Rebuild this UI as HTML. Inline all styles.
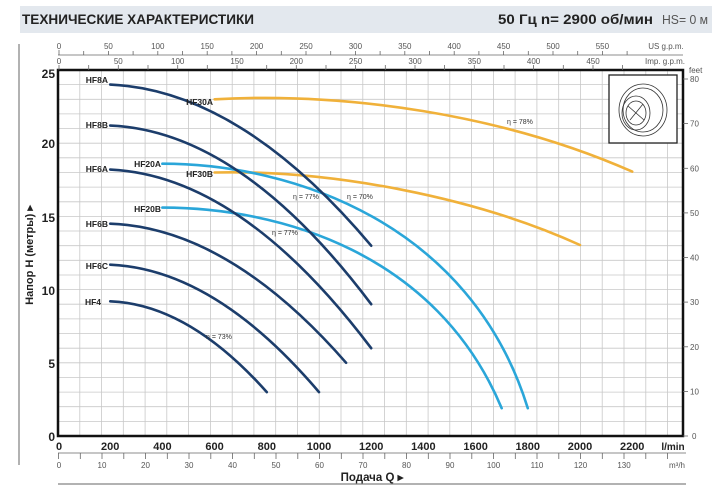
<!DOCTYPE html>
<html><head><meta charset="utf-8"><style>
html,body{margin:0;padding:0;background:#fff;}
svg{display:block;font-family:"Liberation Sans",sans-serif;}
</style></head><body>
<svg width="717" height="500" viewBox="0 0 717 500" xmlns="http://www.w3.org/2000/svg">
<rect x="20" y="6" width="692" height="27" fill="#e3e8ee"/>
<text x="22" y="24" font-size="13.5" font-weight="bold" fill="#222" textLength="232" lengthAdjust="spacingAndGlyphs">ТЕХНИЧЕСКИЕ ХАРАКТЕРИСТИКИ</text>
<text x="498" y="24" font-size="13.5" font-weight="bold" fill="#222" textLength="155" lengthAdjust="spacingAndGlyphs">50 Гц   n= 2900  об/мин</text>
<text x="662" y="24" font-size="12.5" fill="#555" textLength="46" lengthAdjust="spacingAndGlyphs">HS= 0 м</text>
<line x1="19" y1="44" x2="19" y2="465" stroke="#999" stroke-width="1.5"/>
<line x1="58" y1="484" x2="686" y2="484" stroke="#999" stroke-width="1.5"/>
<g id="grid" stroke="#c8c8c8" stroke-width="0.8">
<line x1="79.8" y1="70" x2="79.8" y2="436"/><line x1="101.5" y1="70" x2="101.5" y2="436"/><line x1="123.3" y1="70" x2="123.3" y2="436"/><line x1="145.1" y1="70" x2="145.1" y2="436"/><line x1="166.8" y1="70" x2="166.8" y2="436"/><line x1="188.6" y1="70" x2="188.6" y2="436"/><line x1="210.4" y1="70" x2="210.4" y2="436"/><line x1="232.2" y1="70" x2="232.2" y2="436"/><line x1="253.9" y1="70" x2="253.9" y2="436"/><line x1="275.7" y1="70" x2="275.7" y2="436"/><line x1="297.5" y1="70" x2="297.5" y2="436"/><line x1="319.2" y1="70" x2="319.2" y2="436"/><line x1="341" y1="70" x2="341" y2="436"/><line x1="362.8" y1="70" x2="362.8" y2="436"/><line x1="384.5" y1="70" x2="384.5" y2="436"/><line x1="406.3" y1="70" x2="406.3" y2="436"/><line x1="428.1" y1="70" x2="428.1" y2="436"/><line x1="449.8" y1="70" x2="449.8" y2="436"/><line x1="471.6" y1="70" x2="471.6" y2="436"/><line x1="493.4" y1="70" x2="493.4" y2="436"/><line x1="515.1" y1="70" x2="515.1" y2="436"/><line x1="536.9" y1="70" x2="536.9" y2="436"/><line x1="558.7" y1="70" x2="558.7" y2="436"/><line x1="580.5" y1="70" x2="580.5" y2="436"/><line x1="602.2" y1="70" x2="602.2" y2="436"/><line x1="624" y1="70" x2="624" y2="436"/><line x1="645.8" y1="70" x2="645.8" y2="436"/><line x1="667.5" y1="70" x2="667.5" y2="436"/>
<line x1="58" y1="421.4" x2="683" y2="421.4"/><line x1="58" y1="406.7" x2="683" y2="406.7"/><line x1="58" y1="392.1" x2="683" y2="392.1"/><line x1="58" y1="377.4" x2="683" y2="377.4"/><line x1="58" y1="362.8" x2="683" y2="362.8"/><line x1="58" y1="348.2" x2="683" y2="348.2"/><line x1="58" y1="333.5" x2="683" y2="333.5"/><line x1="58" y1="318.9" x2="683" y2="318.9"/><line x1="58" y1="304.2" x2="683" y2="304.2"/><line x1="58" y1="289.6" x2="683" y2="289.6"/><line x1="58" y1="275" x2="683" y2="275"/><line x1="58" y1="260.3" x2="683" y2="260.3"/><line x1="58" y1="245.7" x2="683" y2="245.7"/><line x1="58" y1="231" x2="683" y2="231"/><line x1="58" y1="216.4" x2="683" y2="216.4"/><line x1="58" y1="201.8" x2="683" y2="201.8"/><line x1="58" y1="187.1" x2="683" y2="187.1"/><line x1="58" y1="172.5" x2="683" y2="172.5"/><line x1="58" y1="157.8" x2="683" y2="157.8"/><line x1="58" y1="143.2" x2="683" y2="143.2"/><line x1="58" y1="128.6" x2="683" y2="128.6"/><line x1="58" y1="113.9" x2="683" y2="113.9"/><line x1="58" y1="99.3" x2="683" y2="99.3"/><line x1="58" y1="84.6" x2="683" y2="84.6"/>
</g>
<rect x="58" y="70" width="625" height="366" fill="none" stroke="#111" stroke-width="2.5"/>
<!-- image box -->
<rect x="609" y="75" width="68" height="68" fill="#fff" stroke="#222" stroke-width="1.3"/>
<g fill="none" stroke="#333" stroke-width="0.8">
<ellipse cx="643" cy="110" rx="24" ry="26"/><ellipse cx="643" cy="110" rx="20" ry="22"/>
<ellipse cx="636" cy="113" rx="14" ry="17"/><ellipse cx="636" cy="113" rx="10" ry="12"/>
<path d="M628 106 L644 120 M630 120 L643 104"/>
</g>
<!-- curves -->
<g fill="none" stroke-width="2.6" stroke-linecap="round">
<path d="M214.6 99.3 C345.1 92 501.7 114 632.2 171.6" stroke="#f0b13a"/>
<path d="M214.6 172.5 C332 169.6 475.6 197.4 580 245" stroke="#f0b13a"/>
<path d="M162.4 163.7 C292.9 163.7 470.4 223.7 527.8 408.2" stroke="#2aa6d9"/>
<path d="M162.4 207.6 C279.9 207.6 436.5 253 501.7 408.2" stroke="#2aa6d9"/>
<path d="M110.2 84.6 Q240.7 90.5 371.2 245.7" stroke="#1c3d6b"/>
<path d="M110.2 125.6 Q240.7 130.8 371.2 304.2" stroke="#1c3d6b"/>
<path d="M110.2 169.6 Q240.7 175.4 371.2 348.2" stroke="#1c3d6b"/>
<path d="M110.2 223.7 Q228.2 228.1 346.1 362.8" stroke="#1c3d6b"/>
<path d="M110.2 264.7 Q214.6 269.1 319 392.1" stroke="#1c3d6b"/>
<path d="M110.2 301.3 Q188.5 304.2 266.8 392.1" stroke="#1c3d6b"/>
</g>
<g font-size="8.5" font-weight="bold" fill="#222" text-anchor="end">
<text x="108" y="83">HF8A</text><text x="108" y="128">HF8B</text><text x="108" y="172">HF6A</text>
<text x="108" y="227">HF6B</text><text x="108" y="269">HF6C</text><text x="101" y="305">HF4</text>
<text x="213" y="105">HF30A</text><text x="213" y="177">HF30B</text>
<text x="161" y="167">HF20A</text><text x="161" y="212">HF20B</text>
</g>
<g font-size="7" fill="#333">
<text x="507" y="124">η = 78%</text><text x="293" y="199">η = 77%</text><text x="347" y="199">η = 70%</text>
<text x="272" y="235">η = 77%</text><text x="206" y="339">η = 73%</text>
</g>
<!-- left axis -->
<g font-size="12" font-weight="bold" fill="#222" text-anchor="end">
<text x="55" y="78">25</text><text x="55" y="148">20</text><text x="55" y="222">15</text><text x="55" y="295">10</text><text x="55" y="368">5</text><text x="55" y="441">0</text>
</g>
<text transform="translate(33,255) rotate(-90)" font-size="11" font-weight="bold" fill="#222" text-anchor="middle">Напор H (метры) ▸</text>
<!-- bottom l/min -->
<g font-size="11" font-weight="bold" fill="#222" text-anchor="middle">
<text x="59" y="450">0</text><text x="110.2" y="450">200</text><text x="162.4" y="450">400</text><text x="214.6" y="450">600</text><text x="266.8" y="450">800</text><text x="319" y="450">1000</text><text x="371.2" y="450">1200</text><text x="423.4" y="450">1400</text><text x="475.6" y="450">1600</text><text x="527.8" y="450">1800</text><text x="580" y="450">2000</text><text x="632.2" y="450">2200</text><text x="673" y="450" font-size="10">l/min</text>
</g>
<!-- m3/h axis -->
<line x1="58" y1="453" x2="686" y2="453" stroke="#666" stroke-width="0.8"/>
<g stroke="#666" stroke-width="0.8">
<line x1="58.5" y1="453" x2="58.5" y2="459"/><line x1="80.3" y1="453" x2="80.3" y2="459"/><line x1="102" y1="453" x2="102" y2="459"/><line x1="123.8" y1="453" x2="123.8" y2="459"/><line x1="145.5" y1="453" x2="145.5" y2="459"/><line x1="167.3" y1="453" x2="167.3" y2="459"/><line x1="189" y1="453" x2="189" y2="459"/><line x1="210.8" y1="453" x2="210.8" y2="459"/><line x1="232.5" y1="453" x2="232.5" y2="459"/><line x1="254.3" y1="453" x2="254.3" y2="459"/><line x1="276" y1="453" x2="276" y2="459"/><line x1="297.8" y1="453" x2="297.8" y2="459"/><line x1="319.5" y1="453" x2="319.5" y2="459"/><line x1="341.3" y1="453" x2="341.3" y2="459"/><line x1="363" y1="453" x2="363" y2="459"/><line x1="384.8" y1="453" x2="384.8" y2="459"/><line x1="406.5" y1="453" x2="406.5" y2="459"/><line x1="428.3" y1="453" x2="428.3" y2="459"/><line x1="450" y1="453" x2="450" y2="459"/><line x1="471.8" y1="453" x2="471.8" y2="459"/><line x1="493.5" y1="453" x2="493.5" y2="459"/><line x1="515.3" y1="453" x2="515.3" y2="459"/><line x1="537" y1="453" x2="537" y2="459"/><line x1="558.8" y1="453" x2="558.8" y2="459"/><line x1="580.5" y1="453" x2="580.5" y2="459"/><line x1="602.3" y1="453" x2="602.3" y2="459"/><line x1="624" y1="453" x2="624" y2="459"/><line x1="645.8" y1="453" x2="645.8" y2="459"/><line x1="667.5" y1="453" x2="667.5" y2="459"/>
</g>
<g font-size="8" fill="#555" text-anchor="middle">
<text x="59" y="468">0</text><text x="102" y="468">10</text><text x="145.5" y="468">20</text><text x="189" y="468">30</text><text x="232.5" y="468">40</text><text x="276" y="468">50</text><text x="319.5" y="468">60</text><text x="363" y="468">70</text><text x="406.5" y="468">80</text><text x="450" y="468">90</text><text x="493.5" y="468">100</text><text x="537" y="468">110</text><text x="580.5" y="468">120</text><text x="624" y="468">130</text><text x="677" y="468">m³/h</text>
</g>
<text x="372" y="481" font-size="11.5" font-weight="bold" fill="#222" text-anchor="middle">Подача Q ▸</text>
<!-- top US gpm -->
<line x1="58" y1="55" x2="683" y2="55" stroke="#666" stroke-width="0.8"/>
<g stroke="#666" stroke-width="0.8">
<line x1="59" y1="50" x2="59" y2="55"/><line x1="83.7" y1="51" x2="83.7" y2="55"/><line x1="108.4" y1="51" x2="108.4" y2="55"/><line x1="133.1" y1="51" x2="133.1" y2="55"/><line x1="157.8" y1="51" x2="157.8" y2="55"/><line x1="182.5" y1="51" x2="182.5" y2="55"/><line x1="207.2" y1="51" x2="207.2" y2="55"/><line x1="231.9" y1="51" x2="231.9" y2="55"/><line x1="256.6" y1="51" x2="256.6" y2="55"/><line x1="281.3" y1="51" x2="281.3" y2="55"/><line x1="306" y1="51" x2="306" y2="55"/><line x1="330.7" y1="51" x2="330.7" y2="55"/><line x1="355.4" y1="51" x2="355.4" y2="55"/><line x1="380.1" y1="51" x2="380.1" y2="55"/><line x1="404.8" y1="51" x2="404.8" y2="55"/><line x1="429.5" y1="51" x2="429.5" y2="55"/><line x1="454.2" y1="51" x2="454.2" y2="55"/><line x1="478.9" y1="51" x2="478.9" y2="55"/><line x1="503.6" y1="51" x2="503.6" y2="55"/><line x1="528.3" y1="51" x2="528.3" y2="55"/><line x1="553" y1="51" x2="553" y2="55"/><line x1="577.7" y1="51" x2="577.7" y2="55"/><line x1="602.4" y1="51" x2="602.4" y2="55"/><line x1="627.1" y1="51" x2="627.1" y2="55"/>
<line x1="59" y1="65" x2="59" y2="70"/><line x1="88.7" y1="65" x2="88.7" y2="70"/><line x1="118.3" y1="65" x2="118.3" y2="70"/><line x1="148" y1="65" x2="148" y2="70"/><line x1="177.7" y1="65" x2="177.7" y2="70"/><line x1="207.3" y1="65" x2="207.3" y2="70"/><line x1="237" y1="65" x2="237" y2="70"/><line x1="266.7" y1="65" x2="266.7" y2="70"/><line x1="296.3" y1="65" x2="296.3" y2="70"/><line x1="326" y1="65" x2="326" y2="70"/><line x1="355.6" y1="65" x2="355.6" y2="70"/><line x1="385.3" y1="65" x2="385.3" y2="70"/><line x1="415" y1="65" x2="415" y2="70"/><line x1="444.6" y1="65" x2="444.6" y2="70"/><line x1="474.3" y1="65" x2="474.3" y2="70"/><line x1="504" y1="65" x2="504" y2="70"/><line x1="533.6" y1="65" x2="533.6" y2="70"/><line x1="563.3" y1="65" x2="563.3" y2="70"/><line x1="593" y1="65" x2="593" y2="70"/><line x1="622.6" y1="65" x2="622.6" y2="70"/>
</g>
<g font-size="8" fill="#555" text-anchor="middle">
<text x="59" y="49">0</text><text x="108.4" y="49">50</text><text x="157.8" y="49">100</text><text x="207.2" y="49">150</text><text x="256.6" y="49">200</text><text x="306" y="49">250</text><text x="355.4" y="49">300</text><text x="404.8" y="49">350</text><text x="454.2" y="49">400</text><text x="503.6" y="49">450</text><text x="553" y="49">500</text><text x="602.4" y="49">550</text>
<text x="59" y="64">0</text><text x="118.3" y="64">50</text><text x="177.7" y="64">100</text><text x="237" y="64">150</text><text x="296.3" y="64">200</text><text x="355.6" y="64">250</text><text x="415" y="64">300</text><text x="474.3" y="64">350</text><text x="533.6" y="64">400</text><text x="593" y="64">450</text>
<text x="666" y="49">US g.p.m.</text><text x="665" y="64">Imp. g.p.m.</text>
</g>
<!-- feet axis -->
<g stroke="#666" stroke-width="0.8">
<line x1="683" y1="79" x2="688" y2="79"/><line x1="683" y1="123.6" x2="688" y2="123.6"/><line x1="683" y1="168.3" x2="688" y2="168.3"/><line x1="683" y1="212.9" x2="688" y2="212.9"/><line x1="683" y1="257.5" x2="688" y2="257.5"/><line x1="683" y1="302.1" x2="688" y2="302.1"/><line x1="683" y1="346.8" x2="688" y2="346.8"/><line x1="683" y1="391.4" x2="688" y2="391.4"/><line x1="683" y1="436" x2="688" y2="436"/>
</g>
<g font-size="8" fill="#555">
<text x="689" y="73">feet</text>
<text x="690" y="82">80</text><text x="690" y="126.6">70</text><text x="690" y="171.3">60</text><text x="690" y="215.9">50</text><text x="690" y="260.5">40</text><text x="690" y="305.1">30</text><text x="690" y="349.8">20</text><text x="690" y="394.4">10</text><text x="692" y="439">0</text>
</g>
</svg>
</body></html>
